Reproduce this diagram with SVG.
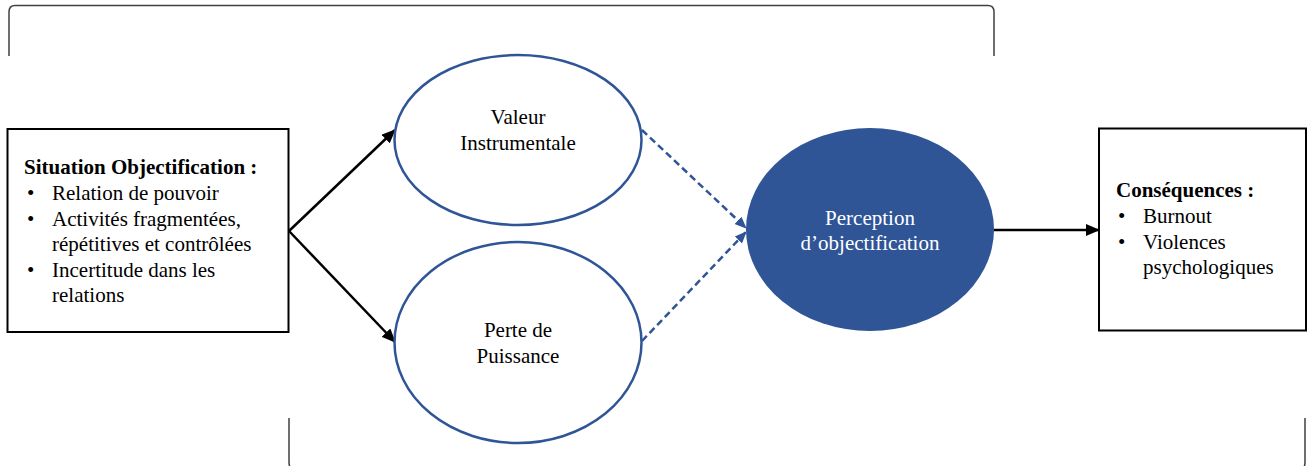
<svg xmlns="http://www.w3.org/2000/svg" width="1310" height="466" viewBox="0 0 1310 466" font-family="'Liberation Serif', 'Times New Roman', 'DejaVu Serif', serif">
<defs>
<style>
text{font-family:'Liberation Serif','Times New Roman','DejaVu Serif',serif;font-size:21px;fill:#000}
.b{font-weight:bold}
.w{fill:#fff}
.box{fill:#fff;stroke:#000;stroke-width:2}
.ov{fill:#fff;stroke:#2F5597;stroke-width:2.5}
.solid{stroke:#000;stroke-width:2.5;fill:none}
.dash{stroke:#2F5597;stroke-width:2.5;fill:none;stroke-dasharray:7 4}
.brk{stroke:#404040;stroke-width:1.5;fill:none}
</style>
<marker id="ah" markerUnits="userSpaceOnUse" markerWidth="14" markerHeight="12" refX="13" refY="6" orient="auto">
<path d="M0,0 L14,6 L0,12 Z" fill="#000"/>
</marker>
<marker id="ahb" markerUnits="userSpaceOnUse" markerWidth="12" markerHeight="12" refX="11" refY="6" orient="auto">
<path d="M0,1 L12,6 L0,11 Z" fill="#2F5597"/>
</marker>
</defs>
<g id="brackets">
<path class="brk" d="M9,56 L9,12 Q9,5.5 15,5.5 L988,5.5 Q994,5.5 994,12 L994,56"/>
<path class="brk" d="M289,418 L289,462 Q289,470 295,470 L1299,470 Q1305,470 1305,462 L1305,418"/>
</g>
<g id="connectors">
<line class="solid" x1="289" y1="231" x2="395" y2="130" marker-end="url(#ah)"/>
<line class="solid" x1="289" y1="231" x2="395" y2="342" marker-end="url(#ah)"/>
<line class="dash" x1="642" y1="130" x2="746" y2="228" marker-end="url(#ahb)"/>
<line class="dash" x1="642" y1="341" x2="746" y2="232" marker-end="url(#ahb)"/>
<line class="solid" x1="994" y1="230" x2="1099" y2="230" marker-end="url(#ah)"/>
</g>
<g id="situation" font-family="'Liberation Serif', serif">
<rect class="box" x="7.5" y="129" width="281" height="203"/>
<text class="b" x="24" y="174">Situation Objectification :</text>
<text x="27" y="200">•</text><text x="52" y="200">Relation de pouvoir</text>
<text x="27" y="225.5">•</text><text x="52" y="225.5">Activités fragmentées,</text>
<text x="52" y="251">répétitives et contrôlées</text>
<text x="27" y="276.5">•</text><text x="52" y="276.5">Incertitude dans les</text>
<text x="52" y="302">relations</text>
</g>
<g id="valeur">
<ellipse class="ov" cx="518" cy="140" rx="123.5" ry="85"/>
<text x="518" y="124" text-anchor="middle">Valeur</text>
<text x="518" y="150" text-anchor="middle">Instrumentale</text>
</g>
<g id="perte">
<ellipse class="ov" cx="518" cy="342.5" rx="123.5" ry="100.5"/>
<text x="518" y="337" text-anchor="middle">Perte de</text>
<text x="518" y="363" text-anchor="middle">Puissance</text>
</g>
<g id="perception">
<ellipse cx="870" cy="229.5" rx="124" ry="101.5" fill="#2F5597"/>
<text class="w" x="870" y="225" text-anchor="middle">Perception</text>
<text class="w" x="870" y="250" text-anchor="middle">d’objectification</text>
</g>
<g id="consequences">
<rect class="box" x="1099" y="128.5" width="207" height="202"/>
<text class="b" x="1116" y="197">Conséquences :</text>
<text x="1118" y="223">•</text><text x="1143" y="223">Burnout</text>
<text x="1118" y="249">•</text><text x="1143" y="249">Violences</text>
<text x="1143" y="274">psychologiques</text>
</g>
</svg>
